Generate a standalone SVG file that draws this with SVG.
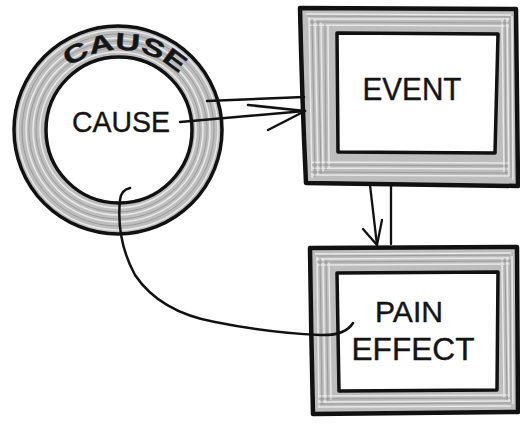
<svg xmlns="http://www.w3.org/2000/svg" width="520" height="425" viewBox="0 0 520 425">
  <style>
    .ink{fill:none;stroke:#111;stroke-linecap:round;stroke-linejoin:round}
    .frame{fill:#bdbdbd;stroke:#111;stroke-width:4.5;stroke-linejoin:round}
    .streak{fill:none;stroke:#ececec;stroke-width:1.5;opacity:0.9}
    .streak2{fill:none;stroke:#8c8c8c;stroke-width:1;opacity:0.7}
    .inner{fill:#fff;stroke:#111;stroke-width:3.5;stroke-linejoin:round}
    .lbl{font-family:"Liberation Sans",Arial,sans-serif;fill:#151515;stroke:#151515;stroke-width:0.4;text-anchor:middle}
  </style>
  <defs>
    <path id="arcTop" d="M 36 134 A 84 84 0 0 1 204 134"/>
  </defs>
  <rect width="520" height="425" fill="#fff"/>

  <g id="cause">
    <circle cx="118" cy="130" r="88.5" fill="none" stroke="#bdbdbd" stroke-width="31"/>
    <circle cx="118" cy="130" r="78" class="streak"/>
    <circle cx="118" cy="130" r="82" class="streak2"/>
    <circle cx="118" cy="130" r="85" class="streak"/>
    <circle cx="118" cy="130" r="89" class="streak2"/>
    <circle cx="118" cy="130" r="92" class="streak"/>
    <circle cx="118" cy="130" r="96" class="streak2"/>
    <circle cx="118" cy="130" r="100" class="streak"/>
    <circle cx="118" cy="130" r="104" class="ink" stroke-width="3.5"/>
    <circle cx="119" cy="130" r="73" class="ink" stroke-width="3.5" fill="#fff"/>
    <text class="lbl" font-size="24" font-weight="bold" stroke-width="0.8"><textPath href="#arcTop" startOffset="52%" textLength="120" lengthAdjust="spacingAndGlyphs">CAUSE</textPath></text>
    <text class="lbl" x="121" y="132" font-size="30" textLength="98" lengthAdjust="spacingAndGlyphs">CAUSE</text>
  </g>

  <g id="event">
    <path class="frame" d="M 300 8 L 516 9 L 518 186 L 306 183 Q 302 100 300 8 Z"/>
    <path class="streak" d="M 306 14 L 511 15 M 308 19 L 510 19 M 309 25 L 509 26 M 312 162 L 508 163 M 312 168 L 508 169 M 311 175 L 509 176 M 309 17 L 312 178 M 315 20 L 318 176 M 321 22 L 323 172 M 328 26 L 329 168 M 502 20 L 504 172 M 507 18 L 509 176 M 512 16 L 513 180"/>
    <path class="streak2" d="M 307 16 L 510 17 M 310 22 L 509 23 M 312 165 L 508 166 M 311 172 L 508 173 M 312 19 L 315 177 M 318 21 L 321 174 M 325 24 L 326 170 M 505 19 L 506 174 M 510 17 L 511 178"/>
    <path class="inner" d="M 337 33 L 498 34 L 495 153 L 338 152 Z"/>
    <text class="lbl" x="412" y="100" font-size="31" textLength="99" lengthAdjust="spacingAndGlyphs">EVENT</text>
  </g>

  <g id="effect">
    <path class="frame" d="M 310 248 L 517 247 L 518 412 L 313 414 Q 311 330 310 248 Z"/>
    <path class="streak" d="M 315 254 L 511 253 M 316 259 L 511 258 M 317 265 L 510 264 M 319 396 L 510 395 M 318 402 L 511 401 M 318 407 L 511 406 M 317 256 L 319 406 M 323 258 L 325 403 M 329 262 L 331 400 M 502 259 L 504 398 M 507 257 L 509 401 M 512 256 L 513 404"/>
    <path class="streak2" d="M 316 256 L 510 255 M 317 262 L 510 261 M 318 399 L 510 398 M 318 404 L 511 403 M 320 258 L 322 405 M 326 260 L 328 401 M 505 258 L 507 400 M 510 257 L 511 402"/>
    <path class="inner" d="M 337 273 L 498 272 L 497 390 L 339 391 Z"/>
    <text class="lbl" x="409" y="322" font-size="30" textLength="68" lengthAdjust="spacingAndGlyphs">PAIN</text>
    <text class="lbl" x="413" y="360" font-size="31" textLength="123" lengthAdjust="spacingAndGlyphs">EFFECT</text>
  </g>

  <g id="connectors">
    <path class="ink" stroke-width="2.5" d="M 207 101 L 304 97"/>
    <path class="ink" stroke-width="2.5" d="M 180 122 L 305 111"/>
    <path class="ink" stroke-width="2.5" d="M 248 105 L 305 111 L 268 130"/>
    <path class="ink" stroke-width="2.3" d="M 370 185 L 377 245"/>
    <path class="ink" stroke-width="2.3" d="M 391 185 L 391 244"/>
    <path class="ink" stroke-width="2.3" d="M 363 229 L 377 245 L 382 220"/>
    <path class="ink" stroke-width="2.5" d="M 130 188 Q 121 190 120 200 Q 116 240 135 275 Q 160 312 215 322 Q 270 333 320 335 Q 345 336 353 323"/>
  </g>
</svg>
